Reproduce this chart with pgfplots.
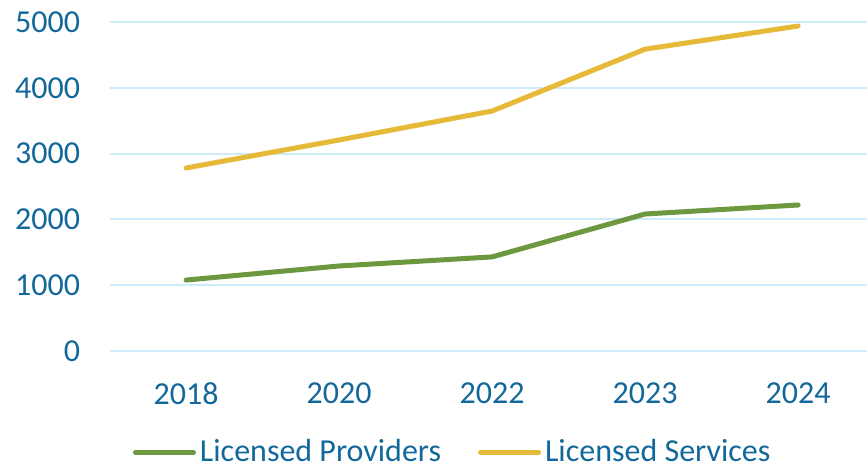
\documentclass[border=0pt]{standalone}
\usepackage{fontspec}
\setmainfont{Carlito}
\usepackage{pgfplots}
\pgfplotsset{compat=1.18}
\definecolor{tickblue}{RGB}{18,104,154}
\definecolor{gridblue}{RGB}{208,236,250}
\definecolor{provgreen}{RGB}{110,152,64}
\definecolor{servgold}{RGB}{230,186,56}
\begin{document}
\fontsize{16bp}{19bp}\selectfont
\begin{tikzpicture}
\useasboundingbox (-54.75bp,-58.5bp) rectangle (378.75bp,175.5bp);
\begin{axis}[
  at={(0,0)}, anchor=south west,
  scale only axis,
  width=378.75bp, height=164.5bp,
  xmin=-0.5, xmax=4.45,
  ymin=0, ymax=5000,
  xtick={0,1,2,3,4},
  xticklabels={2018,2020,2022,2023,2024},
  ytick={0,1000,2000,3000,4000,5000},
  yticklabel={\pgfmathprintnumber[fixed,1000 sep={}]{\tick}},
  scaled y ticks=false,
  /pgf/number format/assume math mode=true,
  axis line style={draw=none},
  major tick length=0pt,
  ymajorgrids,
  grid style={gridblue, line width=1bp},
  tick label style={font=\fontsize{16bp}{19bp}\selectfont, text=tickblue},
  yticklabel style={inner sep=0pt, anchor=east, xshift=-14.5bp},
  xticklabel style={inner sep=0pt, anchor=north, yshift=-15.5bp},
  clip=false,
  legend columns=2,
  legend style={draw=none, fill=none, at={(0.4544,-0.308)}, anchor=center,
    font=\fontsize{16bp}{19bp}\selectfont, text=tickblue,
    /tikz/every even column/.append style={column sep=16.5bp},
    inner sep=0pt},
  legend image code/.code={\draw[#1, line width=2.5bp] (0bp,0bp) -- (29bp,0bp);},
  legend cell align=left,
]
\addplot[provgreen, line width=2.5bp, line cap=round, line join=round] coordinates {(0,1078) (1,1292) (2,1430) (3,2082) (4,2219)};
\addlegendentry{Licensed Providers}
\addplot[servgold, line width=2.5bp, line cap=round, line join=round] coordinates {(0,2781) (1,3207) (2,3647) (3,4587) (4,4939)};
\addlegendentry{Licensed Services}
\end{axis}
\end{tikzpicture}
\end{document}
